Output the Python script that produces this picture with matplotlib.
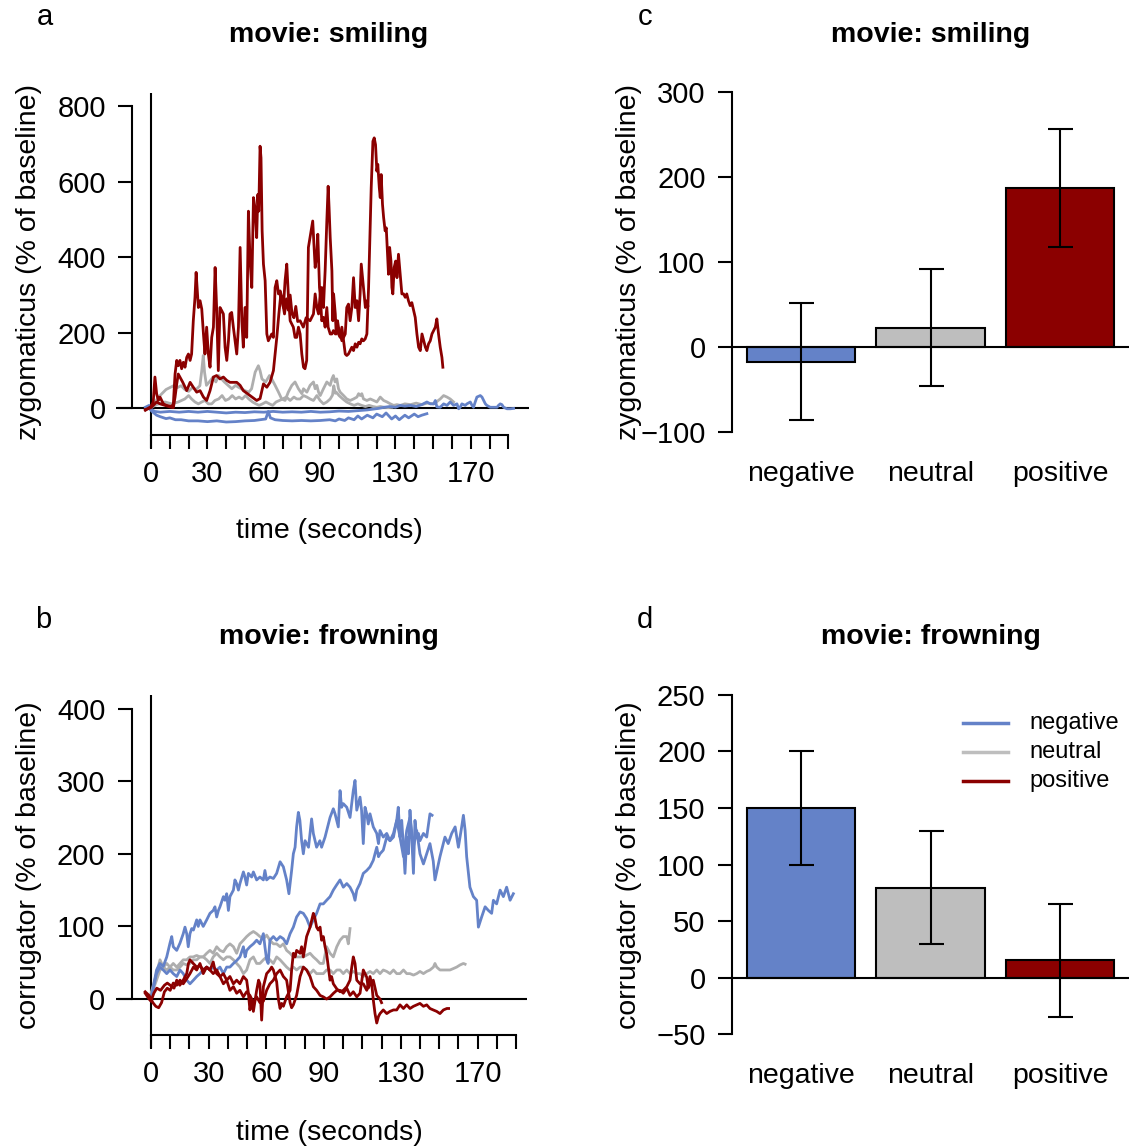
import matplotlib
matplotlib.use("Agg")
import matplotlib.pyplot as plt
from matplotlib.lines import Line2D

plt.rcParams['font.family'] = ['Liberation Sans', 'DejaVu Sans']

W, H = 1130, 1148

BLUE = '#6482C8'
GRAY_LINE = '#AEAEAE'
GRAY_BAR = '#BEBEBE'
RED = '#8B0000'

# ---------------- data: panel a (zygomaticus, movie: smiling) ----------------
# (time in s, % of baseline)
smile_pos_1 = [(-3, -5), (0, 5), (1.2, 17), (2.1, 83), (3, 39), (3.9, 21), (4.8, 30), (6.6, 12), (8.3, 8),
               (11, 5), (11.9, 12), (12.8, 91), (13.7, 127), (14.5, 113), (15.4, 127), (16.3, 105), (17.2, 122),
               (18.1, 109), (19, 135), (19.9, 144), (20.8, 127), (21.6, 144), (22.5, 232), (23.4, 294), (24, 360),
               (24.7, 303), (25.2, 267), (26.1, 285), (27, 263), (27.9, 197), (28.7, 144), (29.6, 215), (30.5, 144),
               (31.4, 109), (32.3, 188), (33.2, 215), (34.1, 373), (34.9, 267), (35.8, 100), (36.7, 267),
               (37.6, 259), (38.5, 250), (39.4, 162), (40.3, 127), (41.2, 179), (42, 250), (42.9, 254), (43.8, 215),
               (44.7, 179), (45.6, 144), (46.5, 215), (47.4, 426), (48.3, 232), (49.1, 162), (50, 267), (50.9, 188),
               (51.8, 522), (52.7, 390), (53.6, 320), (54.5, 558), (55.3, 531), (56.2, 452), (56.8, 566), (57.3, 522),
               (58, 694), (58.5, 663), (59.1, 470), (59.8, 382), (60.7, 338), (61.6, 197), (62.4, 179), (63.3, 188),
               (64.2, 197), (65.1, 188), (66, 320), (66.9, 338), (67.8, 303), (68.7, 311), (69.5, 294), (70.4, 267),
               (71.3, 338), (72.2, 382), (73.1, 294), (74, 232), (74.9, 223), (75.7, 215), (76.6, 188), (77.5, 188),
               (78.4, 215), (79.3, 197), (80.2, 144), (81.1, 109), (81.9, 105), (82.8, 127), (83.7, 426), (86, 496),
               (87.3, 373), (88.2, 408), (88.7, 461), (89.6, 320), (90.3, 285), (90.8, 320), (91.7, 267), (92.6, 364),
               (93.5, 496), (94.2, 588), (94.7, 531), (95.3, 452), (96.2, 364), (96.7, 232), (97.1, 303), (98, 250),
               (98.5, 197), (99.2, 232), (99.7, 215), (100.6, 197), (101.5, 179), (102.4, 188), (103.3, 197),
               (104.1, 267), (105, 276), (105.9, 232), (106.8, 267), (107.7, 346), (108.6, 267), (109.5, 285),
               (110.4, 232), (111.2, 303), (111.8, 382), (113, 320), (114, 267), (114.8, 285), (115.3, 272)]

smile_pos_2 = [(-3, -3), (0, 2), (3, 17), (4.8, 12), (7.5, 8), (10.1, 4), (11.9, 2), (12.8, 30), (13.7, 65),
               (14.5, 91), (15.4, 83), (16.8, 70), (19, 47), (20.8, 69), (22.5, 56), (24.3, 43), (26.1, 47),
               (27.9, 30), (29.6, 21), (31.4, 47), (33.2, 83), (34.9, 87), (36.7, 78), (38.5, 83), (40.3, 74),
               (42, 69), (45.6, 69), (47.4, 61), (49.1, 47), (52.7, 34), (56.2, 21), (58, 26), (59.8, 65), (61.6, 56),
               (63.3, 69), (65.1, 100), (66.9, 188), (68, 250), (69, 300), (70, 280), (71, 250), (72, 290), (73, 260),
               (74, 300), (75, 250), (76, 240), (77, 270), (78, 230), (79.3, 232), (81, 215), (82.5, 240),
               (84.6, 232), (86.4, 250), (87.3, 303), (88.2, 267), (89.1, 250), (90, 303), (90.8, 232), (91.7, 241),
               (92.6, 215), (93.5, 267), (94.2, 215), (95.3, 197), (96.2, 197), (97, 206), (98, 197), (98.8, 215),
               (99.7, 197), (100.6, 188), (101.5, 215), (102.4, 179), (103.3, 144), (104.1, 140), (105, 144),
               (105.9, 153), (106.8, 162), (107.7, 153), (108.6, 171), (109.5, 162), (110.4, 175), (111.2, 171),
               (112.1, 184), (113, 179), (113.9, 184), (114.8, 197), (115.7, 320), (116.6, 496), (117.1, 584),
               (118, 707), (118.7, 716), (119.4, 698), (120.1, 628), (120.6, 646), (121.4, 584), (121.9, 558),
               (122.4, 619), (123.1, 540), (123.7, 505), (124.5, 470), (125.1, 478), (125.8, 408), (126.3, 355),
               (126.9, 426), (127.6, 390), (128.1, 320), (128.6, 303), (129.3, 373), (130.1, 390), (130.8, 346),
               (131.6, 408), (132.5, 355), (133.4, 303), (134.3, 303), (135.2, 294), (136, 303), (136.9, 285),
               (137.8, 272), (138.7, 280), (139.7, 259), (140.5, 241), (141.4, 197), (142.3, 162), (143.2, 153),
               (144.1, 197), (145, 180), (145.9, 162), (146.7, 153), (147.6, 171), (148.5, 179), (149.4, 197),
               (150.3, 206), (151.2, 215), (152, 237), (152.9, 197), (153.8, 162), (154.7, 135), (155.2, 109)]

smile_neu_1 = [(-1, 0), (2, 15), (4, 30), (6, 40), (8, 50), (10, 55), (12, 60), (14, 55), (16, 60), (18, 50),
               (20, 45), (22, 55), (24, 50), (26, 60), (27, 100), (27.8, 140), (28.5, 95), (29.5, 61), (31, 70),
               (33, 83), (34.5, 70), (36, 87), (37.5, 78), (39, 70), (41, 61), (43, 52), (45, 61), (46.5, 56),
               (48, 52), (50, 47), (52, 43), (53.5, 52), (55.4, 96), (57.1, 113), (58, 100), (59, 78), (61, 70),
               (63, 87), (64.2, 78), (66, 61), (67.8, 43), (69.5, 25), (71.3, 21), (73, 43), (74.9, 61), (76.6, 70),
               (78.4, 52), (80.2, 39), (81.1, 52), (82.9, 43), (84.6, 61), (86.4, 70), (87.3, 52), (88.2, 61),
               (89.1, 43), (90, 34), (91.7, 52), (93.5, 70), (95.3, 61), (96.2, 78), (97, 87), (97.9, 70), (98.8, 78),
               (99.7, 52), (100.6, 43), (102.4, 34), (104.1, 25), (105.9, 21), (107.7, 25), (109.5, 30), (110.4, 39),
               (111.3, 34), (112.1, 39), (113, 25), (114.8, 21), (116.6, 25), (118.4, 21), (120.1, 17), (121.9, 30),
               (123.7, 21), (125.5, 17), (127.3, 12), (129, 8), (130.8, 10), (132.6, 8), (135, 12), (138, 10),
               (141, 14), (144, 10), (147, 14), (150.3, 12), (152, 18), (153.8, 25), (155.6, 34), (157.4, 30),
               (159.1, 25), (160.9, 17)]

smile_neu_2 = [(-1, 0), (3, 10), (7.5, 17), (11, 12), (14.5, 17), (18, 25), (20, 34), (21.6, 25), (23.4, 17),
               (25.2, 12), (27, 17), (28.7, 21), (30.5, 12), (32.3, 12), (34, 21), (36, 25), (37.8, 34), (39.6, 21),
               (41.4, 25), (43.2, 34), (45, 25), (46.8, 30), (48.5, 25), (50.3, 34), (52, 25), (54, 17), (55.8, 12),
               (57.5, 8), (59.3, 12), (61.1, 17), (63, 12), (64.7, 8), (66.5, 17), (68.3, 21), (70, 25), (72, 30),
               (74, 21), (76, 30), (77.5, 25), (79.3, 25), (81.1, 34), (82.9, 30), (84.6, 25), (86.4, 21),
               (88.2, 34), (89.9, 21), (91.7, 12), (93.5, 17), (95.3, 25), (96.5, 35), (97.2, 60), (98, 40),
               (98.5, 43), (100, 34), (102, 25), (104, 17), (106, 12), (108, 8), (110, 12), (112, 8), (114, 5),
               (116, 8), (118, 5), (120, 3), (122, 5), (124, 3), (126, 2), (128, 3)]

smile_neg_1 = [(-3, 3), (-1, 8), (0, -2), (2, -8), (5, -10), (10, -8), (15, -10), (20, -8), (25, -10), (30, -8),
               (35, -10), (40, -12), (45, -10), (50, -11), (55, -9), (60, -10), (65, -8), (70, -10), (75, -9),
               (80, -10), (85, -8), (90, -10), (95, -9), (100, -7), (105, -8), (110, -6), (115, -4), (118, -2),
               (121, 0), (124, 3), (127, 5), (130, 3), (132.5, 8), (135, 6), (138, 8), (141, 5), (144, 10),
               (146.7, 17), (148.5, 12), (150.3, 12), (151.2, 21), (152, 4), (153.8, 3), (155.6, 12), (157.4, 8),
               (159.1, 17), (160.9, 8), (162.7, 12), (163.6, -1), (164.4, 3), (165.3, 12), (167.1, 8), (168, 12),
               (169.8, 17), (170.7, 8), (171.5, 3), (172.4, 17), (173.3, 30), (175.1, 34), (176, 30), (176.9, 21),
               (177.8, 12), (178.6, 8), (180.4, 3), (182.2, 3), (184, 3), (184.8, 8), (185.7, 12), (186.6, 10),
               (187.5, 3), (189.3, -1), (191.1, -1), (192.8, 0)]

smile_neg_2 = [(-1, 0), (1, -10), (3, -18), (5, -22), (8, -27), (10, -25), (13, -30), (16, -30), (20, -33),
               (25, -33), (30, -35), (35, -33), (40, -36), (45, -35), (50, -33), (55, -32), (58, -30), (61, -28),
               (62.4, -8), (63.5, -25), (66, -30), (70, -32), (75, -33), (80, -32), (85, -33), (90, -32), (95, -30),
               (98, -33), (100, -28), (103, -32), (105, -25), (108, -30), (110, -20), (112, -28), (115, -18),
               (118, -25), (120, -15), (123, -22), (125, -12), (128, -28), (130, -20), (132, -30), (135, -18),
               (137, -25), (140, -15), (142, -22), (144, -18), (146.7, -14)]

# ---------------- data: panel b (corrugator, movie: frowning) ----------------
frown_neg_1 = [(0, 0), (2.9, 40), (4.6, 49), (6.4, 45), (8.2, 58), (9.9, 77), (10.8, 86), (11.6, 72), (13.4, 67),
               (15.1, 77), (16.8, 90), (17.7, 99), (18.6, 90), (19.4, 72), (20.3, 90), (21.2, 97), (22.1, 95),
               (23.8, 109), (24.6, 100), (25.5, 109), (27.2, 100), (29, 109), (30.7, 118), (32.4, 122), (33.3, 127),
               (34.2, 113), (35.1, 122), (35.9, 127), (37.7, 141), (38.5, 136), (39.4, 145), (40.3, 122),
               (41.1, 141), (42.9, 150), (43.7, 164), (44.6, 159), (45.5, 150), (46.3, 159), (48.1, 175),
               (48.9, 168), (49.8, 157), (50.7, 173), (52.4, 168), (53.3, 175), (55, 164), (56.7, 168), (58.5, 164),
               (59.3, 177), (60.2, 164), (61.9, 168), (63.7, 166), (65.4, 173), (67.2, 189), (68.9, 182),
               (70.6, 164), (71.8, 145), (73.2, 177), (74.1, 200), (75, 209), (75.8, 237), (76.7, 257), (77.5, 246),
               (78.4, 218), (79.3, 200), (80.2, 218), (82, 209), (83.6, 248), (84.5, 228), (86.2, 209), (87.9, 218),
               (88.8, 209), (90.6, 223), (93.2, 250), (94.9, 262), (95.8, 255), (97.5, 237), (98.4, 287),
               (99.2, 264), (100.1, 269), (101.9, 264), (103.6, 250), (105.3, 287), (106.2, 301), (107.1, 260),
               (108.8, 278), (109.6, 260), (110.5, 214), (111.4, 264), (112.3, 255), (113.1, 241), (114, 255),
               (115.7, 237), (117.5, 228), (118.4, 214), (119.2, 232), (120.9, 223), (122.7, 228), (124.4, 218),
               (126.2, 223), (127.9, 246), (128.7, 264), (129.6, 223), (130.5, 246), (131.4, 209), (132.2, 173),
               (133.1, 223), (134, 200), (134.8, 260), (135.7, 223), (136.6, 173), (137.4, 246), (138.3, 223),
               (139.2, 228), (140, 218), (141.8, 228), (143.5, 223), (145.2, 255), (146.3, 253)]

frown_neg_2 = [(0, 0), (2.9, 35), (4.6, 44), (6.4, 40), (8.2, 35), (9.9, 40), (11.6, 35), (13.4, 31), (15.1, 40),
               (16.8, 35), (18.6, 26), (20.3, 21), (22.1, 26), (23.8, 31), (25.5, 35), (27.2, 40), (29, 44),
               (30.7, 40), (32.4, 44), (34.2, 40), (35.9, 44), (37.7, 35), (39.4, 44), (41.1, 44), (42.9, 49),
               (44.6, 53), (46.3, 58), (48.1, 72), (49, 58), (49.8, 67), (51.5, 72), (53.3, 76), (55, 81), (56.7, 76),
               (58.5, 90), (59.3, 72), (60.2, 54), (61, 49), (61.9, 81), (63.7, 86), (65.4, 81), (67.2, 86),
               (68.9, 83), (70.6, 76), (72.4, 90), (74.1, 99), (75.8, 113), (77.6, 120), (79.3, 118), (81, 111),
               (82.8, 99), (84.5, 109), (86.2, 118), (88, 131), (89.7, 131), (91.4, 136), (93.2, 141), (94.9, 150),
               (96.6, 157), (98.4, 164), (100.1, 154), (101.9, 159), (103.6, 154), (105.3, 145), (106.2, 136),
               (107.1, 150), (108.8, 159), (110.5, 173), (112.3, 177), (114, 182), (115.7, 191), (117.5, 209),
               (118.4, 196), (119.2, 200), (120.9, 205), (122.7, 223), (124.4, 218), (126.2, 228), (127.9, 246),
               (129.6, 223), (131.4, 196), (133.1, 232), (134.8, 250), (136.6, 210), (138.3, 232), (140, 200),
               (141.8, 186), (143.5, 200), (145.2, 214), (146.9, 190), (147.8, 164), (150.4, 196), (153, 223),
               (154.7, 214), (156.5, 228), (158.3, 237), (160, 209), (161.7, 237), (162.6, 253), (163.5, 232),
               (164.3, 196), (166, 154), (167.8, 141), (169.5, 136), (170.4, 99), (172.1, 113), (173.9, 127),
               (175.6, 122), (177.3, 118), (178.2, 136), (179.9, 131), (181.7, 150), (183.4, 141), (185.1, 154),
               (186.9, 136), (188.6, 145)]

frown_neu_1 = [(-0.5, 3), (2.9, 35), (4.7, 54), (6.4, 44), (8.2, 49), (9.9, 44), (11.6, 49), (13.4, 44), (15.1, 49),
               (16.8, 54), (18.6, 54), (20.3, 58), (22, 58), (23.8, 60), (25.5, 58), (27.2, 58), (29, 63), (30.7, 67),
               (32.4, 63), (34.2, 72), (35.9, 67), (37.7, 65), (39.4, 72), (41.1, 76), (42.9, 72), (44.6, 63),
               (46.3, 76), (48.1, 81), (49.8, 86), (51.5, 90), (53.3, 93), (55, 90), (56.7, 86), (58.5, 83),
               (60.2, 88), (61.9, 81), (63.7, 76), (65.4, 76), (67.2, 72), (68.9, 76), (70.6, 67), (72.4, 63),
               (74.1, 58), (75.8, 58), (79.3, 58), (82.8, 63), (84.5, 58), (86.2, 54), (88, 49), (89.7, 49),
               (91.4, 72), (93.2, 63), (94.9, 58), (96.7, 72), (98.4, 81), (100.1, 86), (101.9, 86), (102.7, 76),
               (103.6, 97)]

frown_neu_2 = [(-0.5, 1), (2.9, 26), (4.7, 40), (6.4, 44), (8.2, 40), (9.9, 44), (11.6, 40), (13.4, 40), (15.1, 44),
               (16.8, 49), (18.6, 47), (20.3, 49), (22, 54), (23.8, 54), (25.5, 58), (27.2, 58), (29, 54), (30.7, 49),
               (32.4, 58), (34.2, 63), (35.9, 58), (37.7, 54), (39.4, 58), (41.1, 58), (42.9, 54), (44.6, 49),
               (46.3, 44), (48.1, 35), (49.8, 40), (51.5, 54), (53.3, 58), (55, 49), (56.7, 49), (58.5, 54),
               (60.2, 58), (61.9, 54), (63.7, 49), (65.4, 58), (67.2, 54), (68.9, 49), (70.6, 44), (72.4, 40),
               (74.1, 44), (75.8, 40), (77.6, 44), (79.3, 44), (81, 40), (82.8, 35), (84.5, 40), (86.2, 35), (88, 35),
               (89.7, 35), (91.4, 40), (93.2, 40), (94.9, 35), (96.7, 40), (98.4, 40), (100.1, 35), (101.9, 40),
               (103.6, 35), (105.3, 38), (107.1, 35), (108.8, 35), (110.5, 31), (112.3, 35), (114, 38), (115.7, 35),
               (117.5, 40), (119.2, 35), (120.9, 40), (122.7, 38), (124.4, 35), (126.2, 40), (127.9, 35),
               (129.6, 35), (131.4, 40), (133.1, 35), (134.8, 35), (136.6, 33), (138.3, 35), (140, 38), (141.8, 35),
               (143.5, 38), (145.2, 40), (147, 44), (147.8, 49), (148.7, 44), (150.4, 40), (152.2, 40), (153.9, 40),
               (155.6, 40), (157.4, 42), (159.1, 44), (160.9, 47), (162.6, 49), (163.5, 48)]

frown_pos_1 = [(-3, 8), (-1, 0), (0, -3), (1.5, 8), (3, 15), (5, 12), (7, 19), (8.5, 22), (10, 19), (12, 15),
               (13.4, 26), (15, 19), (16.8, 26), (18.6, 35), (19.5, 49), (20.3, 54), (22, 49), (23.8, 44),
               (25.5, 46), (27.2, 40), (29, 44), (30.7, 40), (32.4, 51), (33.3, 40), (34.2, 35), (35.9, 31),
               (37.7, 35), (39.4, 26), (41.1, 31), (42.9, 21), (44.6, 26), (46.3, 21), (48.1, 31), (49.8, 26),
               (50.7, 8), (51.5, -15), (52.4, 0), (53.3, -17), (55, 12), (56, 26), (56.7, 21), (57.6, -29),
               (58.5, 17), (60.2, 35), (61.9, 40), (62.8, 44), (63.7, 40), (65.4, 24), (66.3, 0), (67.2, -13),
               (68, -6), (68.9, -10), (70.6, 3), (72.4, 12), (73.2, 40), (74.1, 63), (75, 58), (75.8, 67),
               (77.6, 63), (78.4, 72), (79.3, 58), (81, 86), (82.8, 99), (84.5, 118), (85.2, 113), (86.2, 99),
               (87.1, 95), (88, 99), (88.8, 81), (89.7, 86), (90.6, 72), (91.4, 63), (92.3, 44), (93.2, 26),
               (94, 31), (94.9, 21), (96.7, 14), (98.4, 10), (100.1, 12), (101.9, 17), (103.6, 26), (104.5, 44),
               (105.3, 58), (106.2, 49), (107.1, 26), (108.8, 21), (110.5, 21), (112.3, 12), (113.1, 21), (114, 31),
               (114.9, 21), (115.7, -1), (116.6, -20), (117.5, -33), (118.4, -24), (119.2, -20), (120.9, -15),
               (122.7, -20), (124.4, -17), (126.2, -15), (127.9, -15), (129.6, -8), (131.4, -13), (133.1, -8),
               (134.8, -13), (136.6, -10), (138.3, -8), (140, -6), (141.8, -10), (143.5, -8), (145.2, -13),
               (146.9, -15), (148.7, -17), (150.4, -20), (152.2, -15), (154, -13), (154.9, -13)]

frown_pos_2 = [(-3, 10), (-1, 5), (0, 0), (1, -5), (2.5, -10), (4, -12), (5.5, -5), (7, 10), (8.5, 15), (10, 12),
               (11.6, 22), (13.4, 19), (15.1, 26), (16.8, 21), (18.6, 28), (20.3, 35), (22.1, 44), (23.8, 40),
               (25.5, 49), (27.2, 35), (29, 44), (30.7, 40), (32.4, 35), (34.2, 40), (35.9, 31), (37.7, 21),
               (39.4, 26), (41.1, 12), (42.9, 17), (44.6, 8), (46.3, 12), (48.1, 3), (49.8, 10), (51.5, 5),
               (53.3, -5), (55, 3), (56.7, -5), (58.5, -3), (60.2, 12), (61.9, 21), (63.7, 26), (65.4, 35),
               (67.2, 40), (68.9, 31), (70.6, 26), (72.4, -5), (73.2, -12), (74.1, -8), (75.8, 5), (77.6, 31),
               (79.3, 44), (81, 40), (82.8, 31), (84.5, 17), (86.2, 12), (88, 5), (89.7, 3), (91.4, 0), (93.2, 3),
               (95, 8), (96.7, 12), (98.4, 12), (100.1, 8), (101.9, 15), (103.6, 5), (105.3, 10), (107.1, 3),
               (108.8, 8), (110.5, 40), (111.4, 35), (112.3, 30), (113.1, 15), (114, 20), (115.7, 26), (117.5, 5),
               (119.2, 0), (120, -5)]

# ---------------- data: bar panels c and d ----------------
conditions = ['negative', 'neutral', 'positive']
bar_colors = [BLUE, GRAY_BAR, RED]
smile_means = [-17, 23, 187]
smile_err = [69, 69, 69]
frown_means = [150, 79.5, 15.3]
frown_err = [50, 50, 50]

fig = plt.figure(figsize=(W / 100, H / 100), dpi=100)


def px_axes(l, t, r, b):
    return fig.add_axes([l / W, 1 - b / H, (r - l) / W, (b - t) / H])


def ftext(x, y, s, **kw):
    fig.text(x / W, 1 - y / H, s, **kw)


def draw_lines(ax, series):
    for data, col in series:
        ax.plot([p[0] for p in data], [p[1] for p in data], color=col, lw=2.0, solid_joinstyle='round')


def style_time_axes(ax, xlim, ylim, yticks, ybottom):
    ax.set_xlim(*xlim)
    ax.set_ylim(*ylim)
    ax.axhline(0, color='black', lw=1.5, zorder=1)
    ax.axvline(0, color='black', lw=1.5, zorder=1)
    for s in ['top', 'right']:
        ax.spines[s].set_visible(False)
    ax.spines['left'].set_position(('data', -10))
    ax.spines['left'].set_bounds(yticks[0], yticks[-1])
    ax.spines['bottom'].set_position(('data', ybottom))
    ax.spines['bottom'].set_bounds(0, 190)
    for s in ['left', 'bottom']:
        ax.spines[s].set_linewidth(1.5)
    ax.set_yticks(yticks)
    xt = list(range(0, 200, 10))
    ax.set_xticks(xt)
    ax.set_xticklabels([str(t) if t in (0, 30, 60, 90, 130, 170) else '' for t in xt])
    ax.tick_params(axis='both', length=10, width=1.5, labelsize=21)
    ax.tick_params(axis='y', pad=9)
    ax.tick_params(axis='x', pad=8)
    ax.patch.set_alpha(0)


def style_bar_axes(ax, ylim, yticks, means, errs):
    x = [0.7, 1.9, 3.1]
    ax.bar(x, means, width=1.0, color=bar_colors, edgecolor='black', linewidth=1.5, zorder=2)
    ax.errorbar(x, means, yerr=errs, fmt='none', ecolor='black', elinewidth=1.5, capsize=9,
                capthick=1.5, zorder=3)
    ax.axhline(0, color='black', lw=1.5, zorder=4)
    ax.set_xlim(0.064, 3.736)
    ax.set_ylim(*ylim)
    for s in ['top', 'right', 'bottom']:
        ax.spines[s].set_visible(False)
    ax.spines['left'].set_bounds(yticks[0], yticks[-1])
    ax.spines['left'].set_linewidth(1.5)
    ax.set_yticks(yticks)
    ax.set_xticks(x)
    ax.set_xticklabels(conditions)
    ax.tick_params(axis='y', length=10, width=1.5, labelsize=21, pad=9)
    ax.tick_params(axis='x', length=0, labelsize=20.5, pad=11)
    ax.patch.set_alpha(0)


# panel a
ax_a = px_axes(116, 93, 529, 448)
draw_lines(ax_a, [(smile_neu_1, GRAY_LINE), (smile_neu_2, GRAY_LINE),
                  (smile_neg_1, BLUE), (smile_neg_2, BLUE),
                  (smile_pos_1, RED), (smile_pos_2, RED)])
style_time_axes(ax_a, (-18.6, 201), (-104.8, 834.8), [0, 200, 400, 600, 800], -70)

# panel b
ax_b = px_axes(116, 695, 527, 1048)
draw_lines(ax_b, [(frown_neu_1, GRAY_LINE), (frown_neu_2, GRAY_LINE),
                  (frown_neg_1, BLUE), (frown_neg_2, BLUE),
                  (frown_pos_1, RED), (frown_pos_2, RED)])
style_time_axes(ax_b, (-18.2, 195.7), (-67.4, 418.6), [0, 100, 200, 300, 400], -50)

# panel c
ax_c = px_axes(732, 78, 1129, 446)
style_bar_axes(ax_c, (-116, 316), [-100, 0, 100, 200, 300], smile_means, smile_err)

# panel d
ax_d = px_axes(732, 681, 1129, 1048)
style_bar_axes(ax_d, (-62, 262), [-50, 0, 50, 100, 150, 200, 250], frown_means, frown_err)

# legend of panel d
for yy, col, lab in [(723, BLUE, 'negative'), (752, GRAY_BAR, 'neutral'), (781, RED, 'positive')]:
    fig.add_artist(Line2D([963 / W, 1008 / W], [1 - yy / H, 1 - yy / H], color=col, lw=2.5))
    ftext(1029, yy, lab, ha='left', va='center', fontsize=17)

# titles, axis labels, panel letters
for x, y, s in [(329, 35, 'movie: smiling'), (931, 35, 'movie: smiling'),
                (329, 637, 'movie: frowning'), (931, 637, 'movie: frowning')]:
    ftext(x, y, s, ha='center', va='center', fontsize=20.5, fontweight='bold')

for x, y, s in [(45, 17, 'a'), (645, 17, 'c'), (43, 620, 'b'), (645, 620, 'd')]:
    ftext(x, y, s, ha='center', va='center', fontsize=21)

ftext(329, 531, 'time (seconds)', ha='center', va='center', fontsize=20.5)
ftext(329, 1133, 'time (seconds)', ha='center', va='center', fontsize=20.5)
ftext(29, 262, 'zygomaticus (% of baseline)', ha='center', va='center', fontsize=20.5, rotation=90)
ftext(629, 262, 'zygomaticus (% of baseline)', ha='center', va='center', fontsize=20.5, rotation=90)
ftext(29, 865, 'corrugator (% of baseline)', ha='center', va='center', fontsize=20.5, rotation=90)
ftext(629, 865, 'corrugator (% of baseline)', ha='center', va='center', fontsize=20.5, rotation=90)

fig.savefig('out.png', dpi=100)
